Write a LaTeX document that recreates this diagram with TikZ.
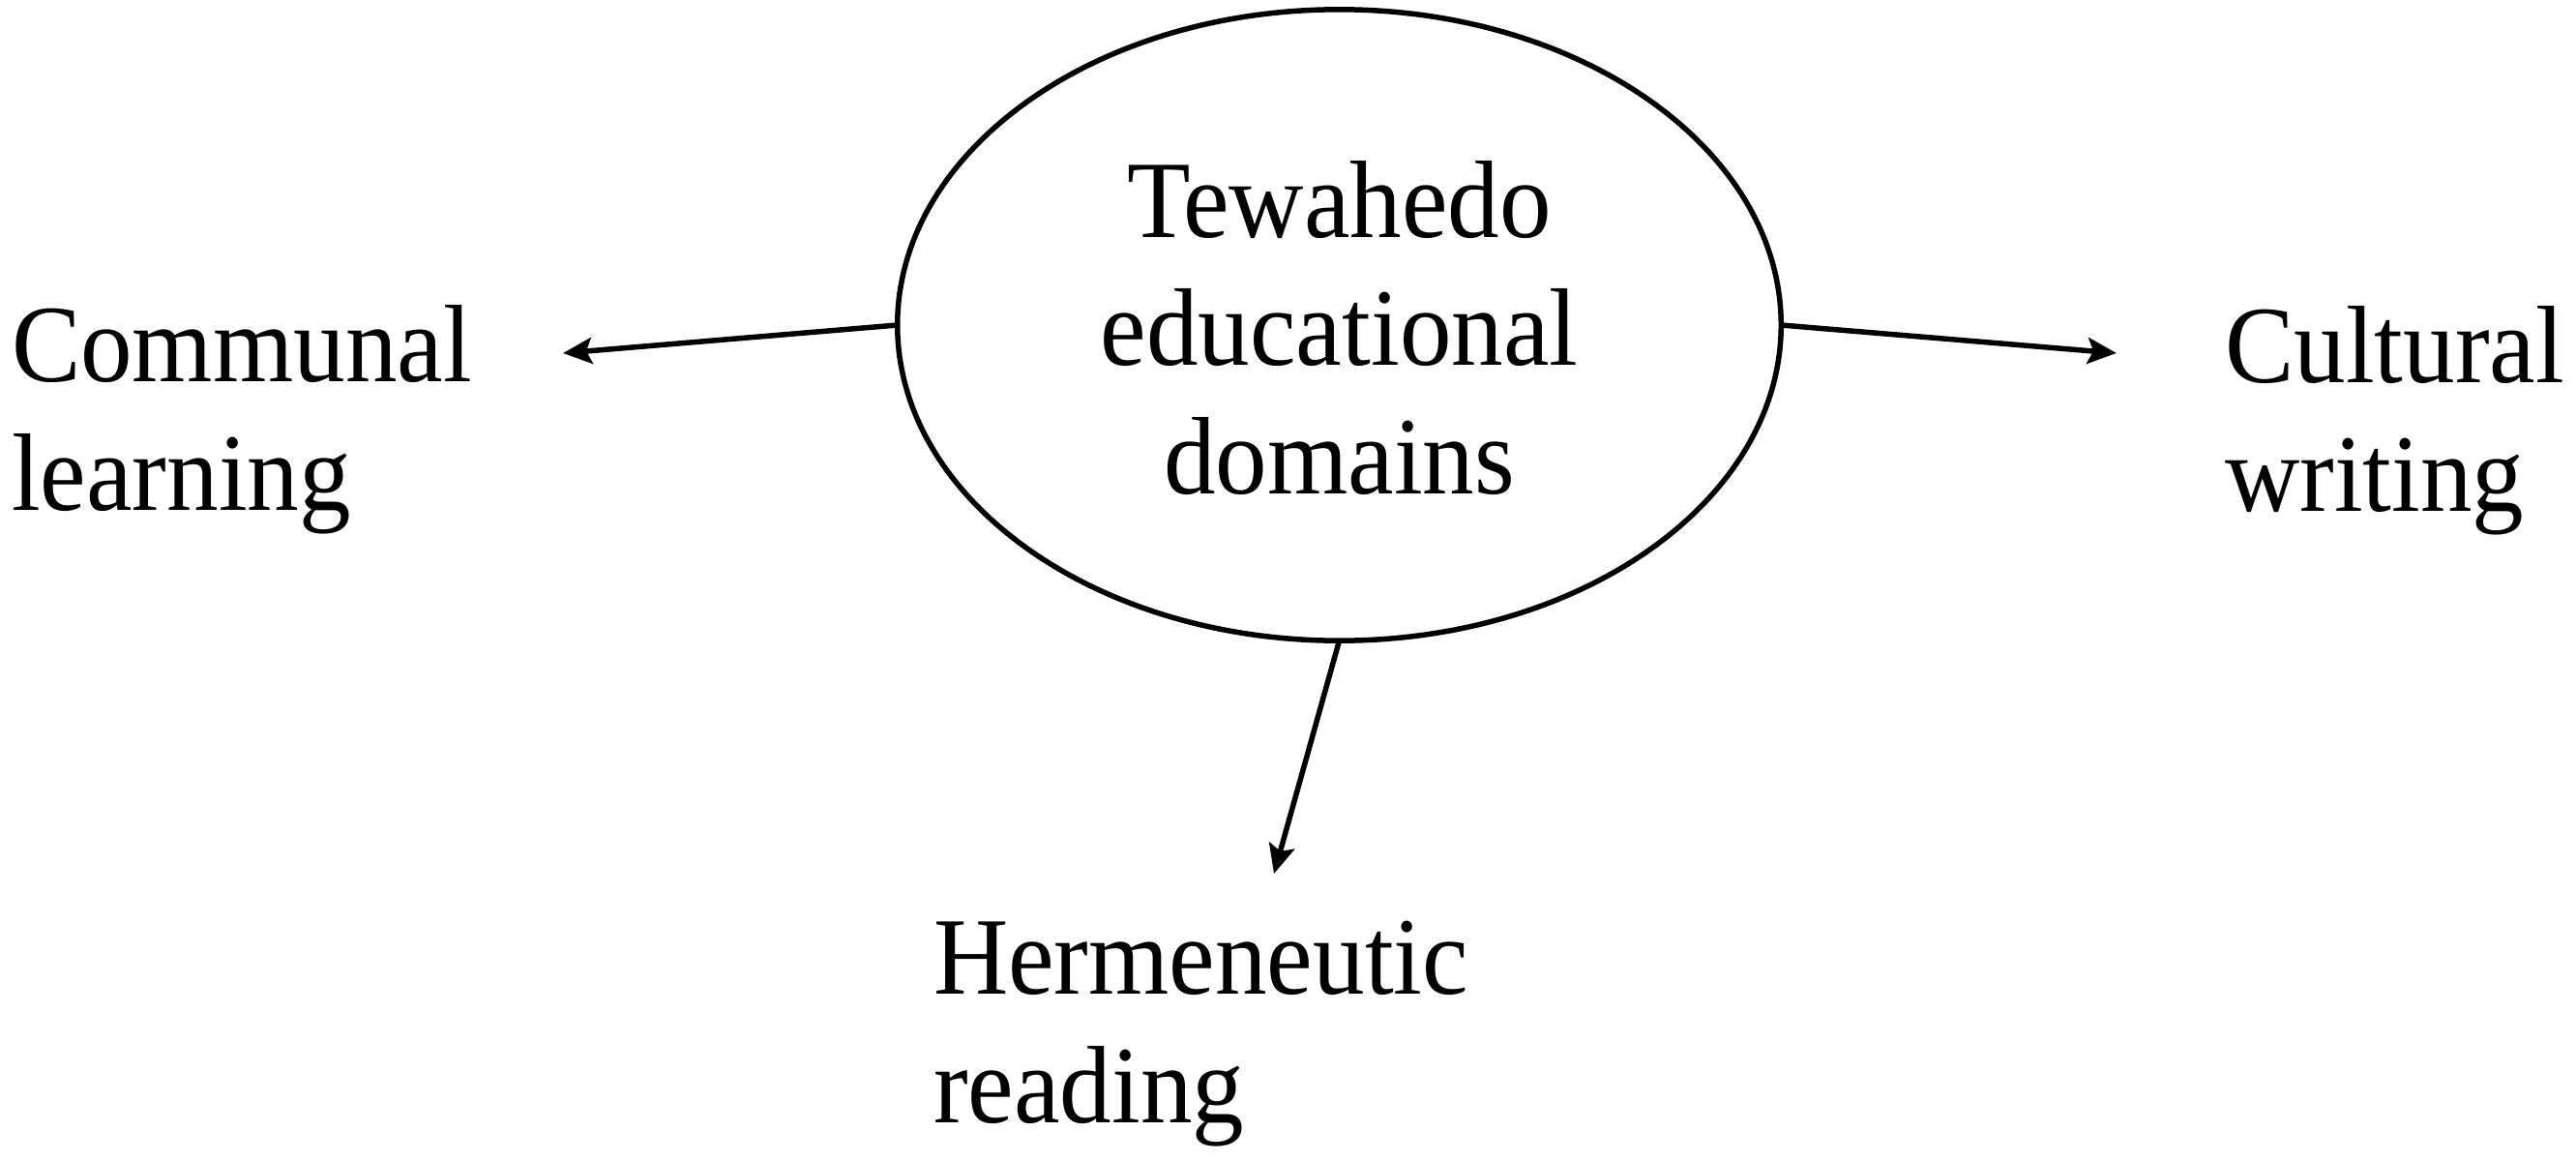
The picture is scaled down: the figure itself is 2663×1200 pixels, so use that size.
\documentclass[tikz,border=0pt]{standalone}
\usepackage{fontspec}
\setmainfont{Liberation Serif}[FakeStretch=0.94]
\usetikzlibrary{shapes.geometric,arrows.meta}
\tikzset{
  lbl/.style={inner sep=0pt, outer sep=0pt, align=left, anchor=base west,
    font=\fontsize{32.4pt}{37.6pt}\selectfont},
  ctr/.style={lbl, align=center, anchor=base},
  core/.style={draw, ellipse, line width=0.055cm, minimum width=9.13cm,
    minimum height=6.52cm, inner sep=0pt, outer sep=0pt},
  arr/.style={line width=0.055cm, -{Stealth[length=0.3cm,width=0.27cm,inset=0.06cm]}}
}
\begin{document}
\begin{tikzpicture}[x=0.01cm,y=-0.01cm]
\path[use as bounding box] (0,0) rectangle (2663,1200);
\node[core] (core) at (1384.5,336) {};
\node[ctr] (coretext) at (1384.5,510) {Tewahedo\\educational\\domains};
\node[lbl] (comm) at (12,527) {Communal\\learning};
\node[lbl] (cult) at (2300,528) {Cultural\\writing};
\node[lbl] (herm) at (965,1160) {Hermeneutic\\reading};
\coordinate (tipL) at (582,365);
\coordinate (tipR) at (2188,365);
\coordinate (tipB) at (1317,903);
\draw[arr] (core.west) -- (tipL);
\draw[arr] (core.east) -- (tipR);
\draw[arr] (core.south) -- (tipB);
\end{tikzpicture}
\end{document}
